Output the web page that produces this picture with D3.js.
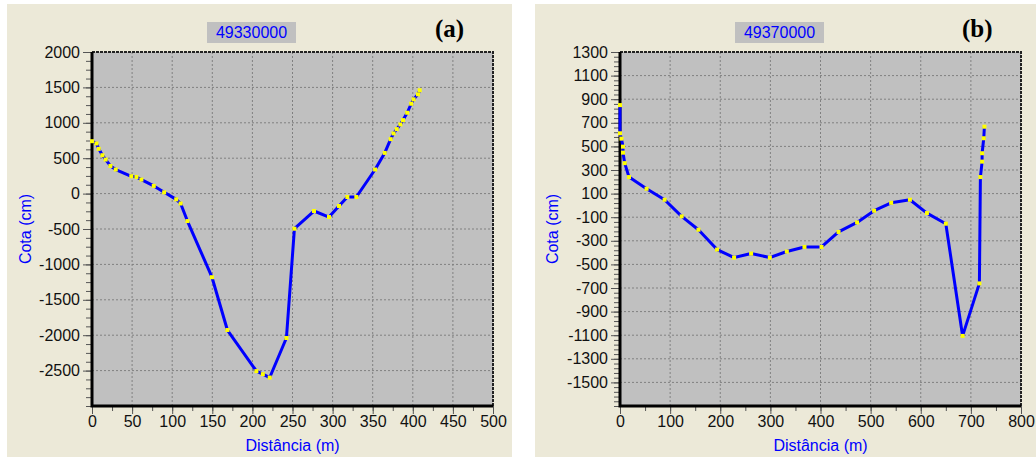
<!DOCTYPE html>
<html>
<head>
<meta charset="utf-8">
<script src="https://cdn.jsdelivr.net/npm/d3@7"></script>
<style>
    body { margin: 0; background: #fff; }
    svg { display: block; font-family: "Liberation Sans", Arial, sans-serif; }
    .tick text { font-size: 16px; fill: #111; }
    .tick line { stroke: #555; }
    .grid line { stroke: #808080; stroke-dasharray: 2,2; }
</style>
</head>
<body>
<div id="chart"></div>
<script>
// panel (a) - secao 49330000
var distA = [0, 5.5, 8.4, 13, 17, 23, 29.6, 49, 55.4, 61.6, 77, 90, 105, 110.5, 119, 149.6, 168.8, 205, 213, 221.6, 242.4, 252.4, 276.8, 295.5, 308, 318.4, 329.6, 353, 365, 372.4, 376, 380, 384.5, 387.8, 393, 398, 401, 406.5, 408.6];
var cotaA = [740, 708, 632, 542, 481, 391, 340, 245, 235, 198, 108, 18, -81, -140, -388, -1181, -1927, -2507, -2550, -2598, -2040, -496, -246, -331, -175, -48, -48, 340, 575, 769, 850, 911, 977, 1038, 1142, 1269, 1331, 1402, 1459];
var xTicksA = [0, 50, 100, 150, 200, 250, 300, 350, 400, 450, 500];
var yTicksA = [2000, 1500, 1000, 500, 0, -500, -1000, -1500, -2000, -2500];

// panel (b) - secao 49370000
var distB = [0, 0, 2.8, 6, 6, 9.4, 18, 53, 89, 123, 156.5, 193.7, 227.6, 261.6, 298.9, 332.8, 368, 402, 436, 473, 507, 541, 578.4, 612.3, 650, 683.5, 717, 719, 722.4, 722.4, 725.7, 727];
var cotaB = [850, 611, 566, 498, 447, 358, 240, 141, 48, -93, -206, -374, -442, -408, -442, -391, -352, -352, -225, -144, -45, 22, 48, -65, -155, -1106, -661, 240, 371, 442, 569, 667];
var xTicksB = [0, 100, 200, 300, 400, 500, 600, 700, 800];
var yTicksB = [1300, 1100, 900, 700, 500, 300, 100, -100, -300, -500, -700, -900, -1100, -1300, -1500];

var svg = d3.select("#chart").append("svg")
        .attr("width", 1036)
        .attr("height", 459);

// plain integer labels with ascii minus
var fmt = function (d) { return String(d); };

function drawPanel(o) {
    var data = o.dist.map(function (d, i) { return {x: d, y: o.cota[i]}; });

    svg.append("rect")
            .attr("x", o.bgX).attr("y", 4)
            .attr("width", o.bgW).attr("height", 453)
            .attr("fill", "#ece9d8");

    var x = d3.scaleLinear().domain(o.xDomain).range([o.left, o.right]);
    var y = d3.scaleLinear().domain(o.yDomain).range([406, 52]);

    svg.append("rect")
            .attr("x", o.left).attr("y", 52)
            .attr("width", o.right - o.left).attr("height", 406 - 52)
            .attr("fill", "#c0c0c0");

    // grid
    var grid = svg.append("g").attr("class", "grid");
    grid.selectAll("line.gx")
            .data(o.xTicks.filter(function (d) { return d > o.xDomain[0] && d < o.xDomain[1]; }))
            .enter().append("line")
            .attr("x1", function (d) { return x(d); }).attr("x2", function (d) { return x(d); })
            .attr("y1", 52).attr("y2", 406);
    grid.selectAll("line.gy")
            .data(o.yTicks.filter(function (d) { return d < o.yDomain[1]; }))
            .enter().append("line")
            .attr("y1", function (d) { return y(d); }).attr("y2", function (d) { return y(d); })
            .attr("x1", o.left).attr("x2", o.right);

    // top / right border, dashed
    svg.append("path")
            .attr("d", "M" + o.left + ",52H" + o.right + "V406")
            .attr("fill", "none")
            .attr("stroke", "#222")
            .attr("stroke-width", 2)
            .attr("stroke-dasharray", "3,1");

    // minor ticks
    svg.append("g")
            .attr("transform", "translate(" + o.left + ",0)")
            .call(d3.axisLeft(y).tickValues(d3.range(o.yDomain[0], o.yDomain[1] + 1, o.yMinor)).tickSize(6).tickFormat(""))
            .call(function (g) { g.select(".domain").remove(); });
    svg.append("g")
            .attr("transform", "translate(0,406)")
            .call(d3.axisBottom(x).tickValues(d3.range(o.xDomain[0], o.xDomain[1] + 1, o.xMinor)).tickSize(5).tickFormat(""))
            .call(function (g) { g.select(".domain").remove(); });

    // major ticks + labels
    svg.append("g")
            .attr("transform", "translate(" + o.left + ",0)")
            .call(d3.axisLeft(y).tickValues(o.yTicks).tickSize(9).tickPadding(3).tickFormat(fmt))
            .call(function (g) { g.select(".domain").remove(); });
    svg.append("g")
            .attr("transform", "translate(0,406)")
            .call(d3.axisBottom(x).tickValues(o.xTicks).tickSize(8).tickPadding(2).tickFormat(fmt))
            .call(function (g) { g.select(".domain").remove(); });

    // thick axis lines
    svg.append("path")
            .attr("d", "M" + o.left + ",52V406H" + o.right)
            .attr("fill", "none")
            .attr("stroke", "#000")
            .attr("stroke-width", 3);

    var line = d3.line()
            .x(function (d) { return x(d.x); })
            .y(function (d) { return y(d.y); });

    svg.append("path")
            .datum(data)
            .attr("d", line)
            .attr("fill", "none")
            .attr("stroke", "#0000ff")
            .attr("stroke-width", 3)
            .attr("stroke-linejoin", "round");

    svg.append("g").selectAll("rect")
            .data(data)
            .enter().append("rect")
            .attr("x", function (d) { return x(d.x) - 2; })
            .attr("y", function (d) { return y(d.y) - 2; })
            .attr("width", 4)
            .attr("height", 4)
            .attr("fill", "#ffff00");

    // title box
    svg.append("rect")
            .attr("x", o.titleX).attr("y", 22)
            .attr("width", 89).attr("height", 21)
            .attr("fill", "#c0c0c0");
    svg.append("text")
            .attr("x", o.titleX + 44.5).attr("y", 38)
            .attr("text-anchor", "middle")
            .attr("font-size", 16)
            .attr("fill", "#0000ff")
            .text(o.title);

    svg.append("text")
            .attr("x", o.tagX).attr("y", 37)
            .attr("font-family", "'Liberation Serif', 'Times New Roman', serif")
            .attr("font-weight", "bold")
            .attr("font-size", 25)
            .attr("fill", "#000")
            .text(o.tag);

    svg.append("text")
            .attr("transform", "translate(" + o.yLabelX + ",229) rotate(-90)")
            .attr("text-anchor", "middle")
            .attr("font-size", 16)
            .attr("fill", "#0000ff")
            .text("Cota (cm)");

    svg.append("text")
            .attr("x", (o.left + o.right) / 2).attr("y", 451)
            .attr("text-anchor", "middle")
            .attr("font-size", 16)
            .attr("fill", "#0000ff")
            .text("Distância (m)");
}

drawPanel({
    dist: distA, cota: cotaA, xTicks: xTicksA, yTicks: yTicksA,
    xDomain: [0, 500], yDomain: [-3000, 2000], xMinor: 25, yMinor: 125,
    left: 92, right: 493, bgX: 7, bgW: 505,
    titleX: 207, title: "49330000", tagX: 435, tag: "(a)", yLabelX: 31
});
drawPanel({
    dist: distB, cota: cotaB, xTicks: xTicksB, yTicks: yTicksB,
    xDomain: [0, 800], yDomain: [-1700, 1300], xMinor: 50, yMinor: 40,
    left: 620, right: 1021, bgX: 535, bgW: 501,
    titleX: 735, title: "49370000", tagX: 962, tag: "(b)", yLabelX: 558
});
</script>
</body>
</html>
